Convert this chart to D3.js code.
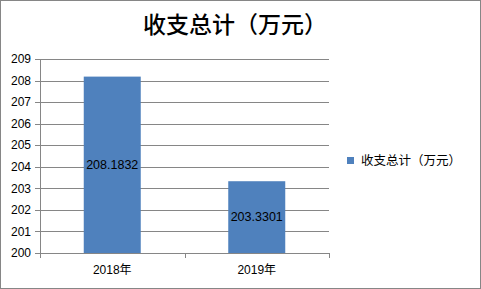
<!DOCTYPE html>
<html>
<head>
<meta charset="utf-8">
<script src="https://cdn.jsdelivr.net/npm/d3@7"></script>
<style>
  body { margin: 0; background: #fff; }
  svg { display: block; }
</style>
</head>
<body>
<div id="chart"></div>
<script>
var categories = ["2018年", "2019年"];
var values = [208.1832, 203.3301];
var yTicks = [200, 201, 202, 203, 204, 205, 206, 207, 208, 209];
var seriesName = "收支总计（万元）";
var title = "收支总计（万元）";

var width = 481, height = 289;
var plot = { left: 40, right: 329, top: 59, bottom: 253 };

var svg = d3.select("#chart")
    .append("svg")
    .attr("width", width)
    .attr("height", height);

// outer border
svg.append("rect")
    .attr("x", 0.5).attr("y", 0.5)
    .attr("width", width - 1).attr("height", height - 1)
    .attr("fill", "#fff")
    .attr("stroke", "#868686");

svg.append("text")
    .attr("x", 235)
    .attr("y", 33)
    .attr("text-anchor", "middle")
    .style("font-family", "'Noto Sans CJK SC'")
    .style("font-size", "23px")
    .style("font-weight", "500")
    .attr("fill", "#000")
    .text(title);

var x = d3.scaleBand()
    .domain(categories)
    .range([plot.left, plot.right])
    .paddingInner(0)
    .paddingOuter(0);

var y = d3.scaleLinear()
    .domain([200, 209])
    .range([plot.bottom, plot.top]);

// gridlines
svg.append("g")
    .selectAll("line")
    .data(yTicks)
    .enter()
    .append("line")
    .attr("x1", plot.left - 5)
    .attr("x2", plot.right)
    .attr("y1", function (d) { return Math.round(y(d)) + 0.5; })
    .attr("y2", function (d) { return Math.round(y(d)) + 0.5; })
    .attr("stroke", "#868686");

// y axis line
svg.append("line")
    .attr("x1", plot.left + 0.5).attr("x2", plot.left + 0.5)
    .attr("y1", plot.top).attr("y2", plot.bottom + 5)
    .attr("stroke", "#868686");

// y labels
svg.append("g")
    .selectAll("text")
    .data(yTicks)
    .enter()
    .append("text")
    .attr("x", plot.left - 9)
    .attr("y", function (d) { return y(d); })
    .attr("dy", "0.35em")
    .attr("text-anchor", "end")
    .style("font-family", "'Liberation Sans', Arial")
    .style("font-size", "12px")
    .attr("fill", "#000")
    .text(function (d) { return d; });

// bars
var barW = 57;
svg.append("g")
    .selectAll("rect")
    .data(values)
    .enter()
    .append("rect")
    .attr("x", function (d, i) { return x(categories[i]) + (x.bandwidth() - barW) / 2; })
    .attr("y", function (d) { return y(d); })
    .attr("width", barW)
    .attr("height", function (d) { return y(200) - y(d); })
    .attr("fill", "#4F81BD");

// bottom ticks
var bTicks = categories.map(function (c) { return x(c); }).concat([plot.right]);
svg.append("g")
    .selectAll("line")
    .data(bTicks)
    .enter()
    .append("line")
    .attr("x1", function (d) { return Math.round(d) + 0.5; })
    .attr("x2", function (d) { return Math.round(d) + 0.5; })
    .attr("y1", plot.bottom)
    .attr("y2", plot.bottom + 5)
    .attr("stroke", "#868686");

// value labels
svg.append("g")
    .selectAll("text")
    .data(values)
    .enter()
    .append("text")
    .attr("x", function (d, i) { return x(categories[i]) + x.bandwidth() / 2; })
    .attr("y", function (d) { return (y(d) + y(200)) / 2; })
    .attr("dy", "0.35em")
    .attr("text-anchor", "middle")
    .style("font-family", "'Liberation Sans', Arial")
    .style("font-size", "12.5px")
    .attr("fill", "#000")
    .text(function (d) { return d; });

// x labels
svg.append("g")
    .selectAll("text")
    .data(categories)
    .enter()
    .append("text")
    .attr("x", function (d) { return x(d) + x.bandwidth() / 2; })
    .attr("y", 270)
    .attr("dy", "0.35em")
    .attr("text-anchor", "middle")
    .style("font-family", "'Liberation Sans', 'Noto Sans CJK SC'")
    .style("font-size", "12px")
    .attr("fill", "#000")
    .text(function (d) { return d; });

// legend
svg.append("rect")
    .attr("x", 347).attr("y", 157)
    .attr("width", 7).attr("height", 7)
    .attr("fill", "#4F81BD");
svg.append("text")
    .attr("x", 361)
    .attr("y", 160.5)
    .attr("dy", "0.35em")
    .style("font-family", "'Noto Sans CJK SC'")
    .style("font-size", "12.5px")
    .attr("fill", "#000")
    .text(seriesName);
</script>
</body>
</html>
